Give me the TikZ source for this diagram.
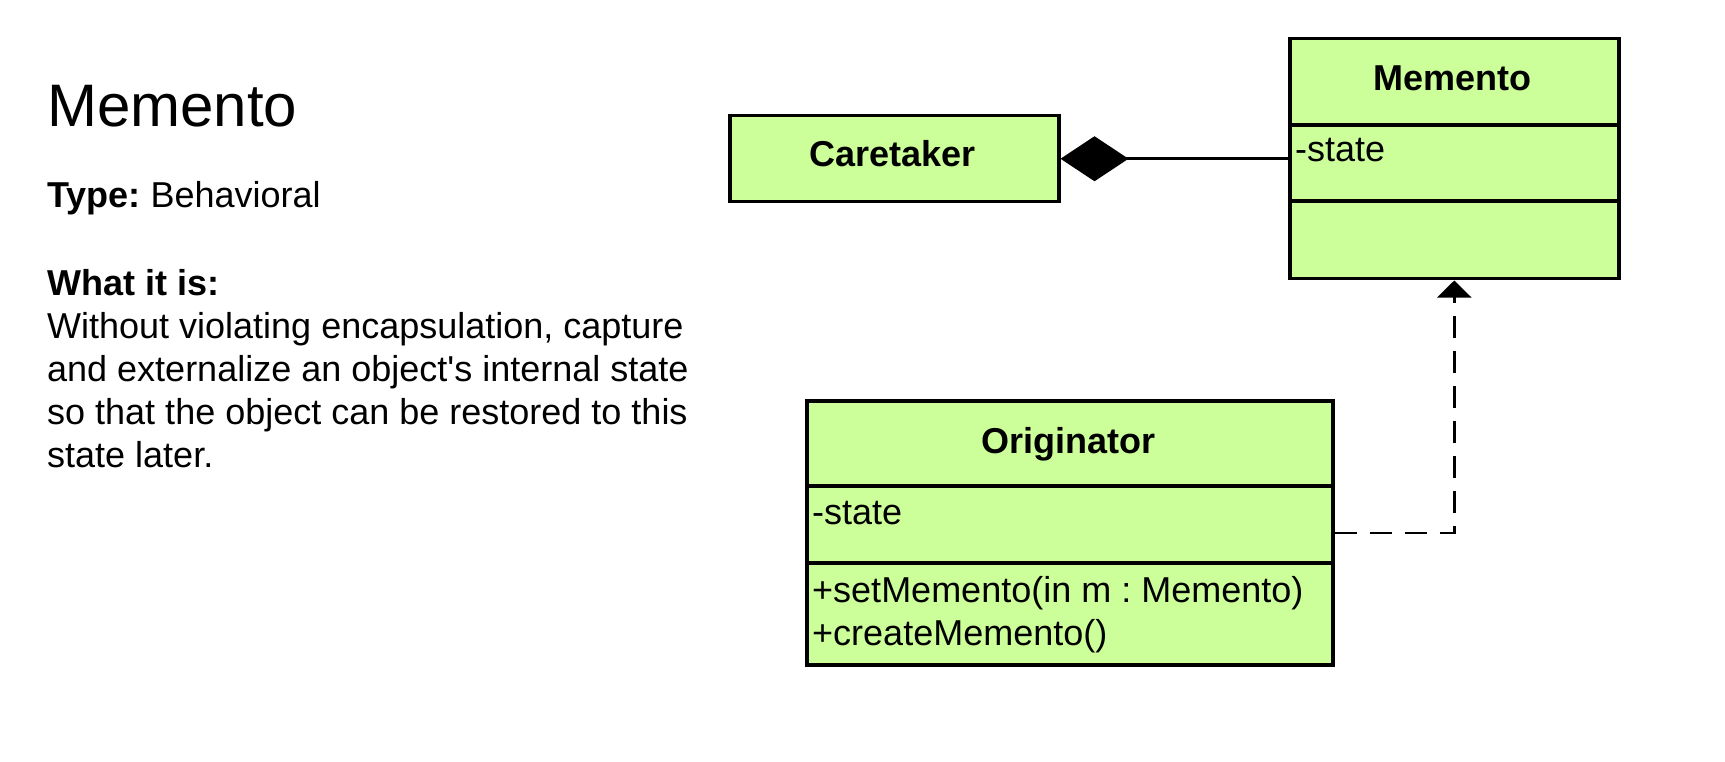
\documentclass[tikz,border=0pt]{standalone}
\usepackage{fontspec}
\setmainfont{Liberation Sans}[Ligatures=TeXOff]
\usetikzlibrary{arrows.meta}
\definecolor{umlgreen}{RGB}{204,255,153}
\begin{document}
\frenchspacing
\begin{tikzpicture}[x=1pt,y=-1pt,
  classbox/.style={draw=black, line width=3.5pt, fill=umlgreen, rectangle, inner sep=0pt, anchor=north west},
  divider/.style={draw=black, line width=3.5pt},
  nametext/.style={inner sep=0pt, anchor=base, font=\fontsize{36}{43}\selectfont\bfseries},
  membertext/.style={inner sep=0pt, anchor=base west, font=\fontsize{36}{43}\selectfont},
  bodytext/.style={inner sep=0pt, anchor=base west, font=\fontsize{36}{43}\selectfont},
  composition/.style={draw=black, line width=2.5pt, -{Diamond[length=68pt, width=45pt]}},
  dependency/.style={draw=black, line width=2.5pt, dash pattern=on 22pt off 13pt, -{Triangle[length=17pt, width=34pt]}}
]
\useasboundingbox (0,0) rectangle (1725,762);

% left-hand description
\node[bodytext, font=\fontsize{60}{70}\selectfont] (title) at (47,127) {Memento};
\node[bodytext] (type) at (47,208) {\textbf{Type:} Behavioral};
\node[bodytext] (whatis) at (47,295) {\textbf{What it is:}};
\node[bodytext] (line1) at (47,338) {Without violating encapsulation, capture};
\node[bodytext] (line2) at (47,381) {and externalize an object's internal state};
\node[bodytext] (line3) at (47,424) {so that the object can be restored to this};
\node[bodytext] (line4) at (47,467) {state later.};

% Caretaker
\node[classbox, minimum width=329pt, minimum height=86pt] (care) at (728,114) {};
\node[nametext] (carename) at (892.5,167) {Caretaker};

% Memento
\node[classbox, minimum width=329pt, minimum height=240pt] (mem) at (1288,37) {};
\draw[divider] (mem.west |- 0,125) -- (mem.east |- 0,125);
\draw[divider] (mem.west |- 0,201) -- (mem.east |- 0,201);
\node[nametext] (memname) at (1452.5,91) {Memento};
\node[membertext] (memstate) at (1295,162) {-state};

% Originator
\node[classbox, minimum width=526pt, minimum height=264pt] (orig) at (805,399) {};
\draw[divider] (orig.west |- 0,486) -- (orig.east |- 0,486);
\draw[divider] (orig.west |- 0,563) -- (orig.east |- 0,563);
\node[nametext] (origname) at (1068,453) {Originator};
\node[membertext] (origstate) at (812,524) {-state};
\node[membertext] (origset) at (812,602) {+setMemento(in m : Memento)};
\node[membertext] (origcreate) at (812,645) {+createMemento()};

% connectors
\draw[composition] (mem.west) -- (care.east);
\draw[dependency] (orig.east) -| (mem.south);
\end{tikzpicture}
\end{document}
